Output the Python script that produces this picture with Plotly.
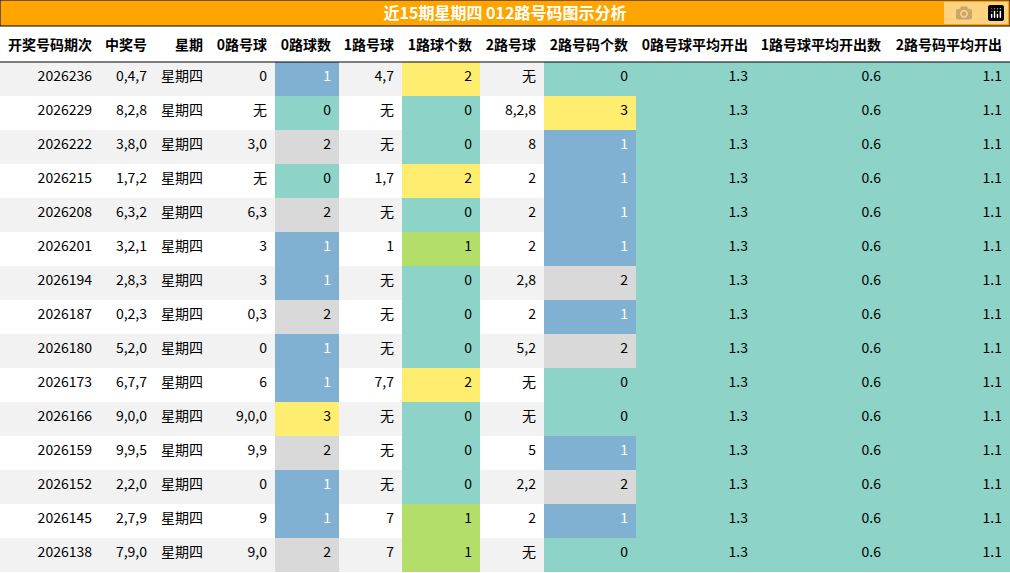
import plotly.graph_objects as go

title = "近15期星期四 012路号码图示分析"
headers = ["开奖号码期次", "中奖号", "星期", "0路号球", "0路球数", "1路号球", "1路球个数",
           "2路号球", "2路号码个数", "0路号球平均开出", "1路号球平均开出数", "2路号码平均开出"]

issues = ["2026236", "2026229", "2026222", "2026215", "2026208", "2026201", "2026194", "2026187",
          "2026180", "2026173", "2026166", "2026159", "2026152", "2026145", "2026138"]
numbers = ["0,4,7", "8,2,8", "3,8,0", "1,7,2", "6,3,2", "3,2,1", "2,8,3", "0,2,3",
           "5,2,0", "6,7,7", "9,0,0", "9,9,5", "2,2,0", "2,7,9", "7,9,0"]
weekday = ["星期四"] * 15
r0_balls = ["0", "无", "3,0", "无", "6,3", "3", "3", "0,3", "0", "6", "9,0,0", "9,9", "0", "9", "9,0"]
r0_count = [1, 0, 2, 0, 2, 1, 1, 2, 1, 1, 3, 2, 1, 1, 2]
r1_balls = ["4,7", "无", "无", "1,7", "无", "1", "无", "无", "无", "7,7", "无", "无", "无", "7", "7"]
r1_count = [2, 0, 0, 2, 0, 1, 0, 0, 0, 2, 0, 0, 0, 1, 1]
r2_balls = ["无", "8,2,8", "8", "2", "2", "2", "2,8", "2", "5,2", "无", "无", "5", "2,2", "2", "无"]
r2_count = [0, 3, 1, 1, 1, 1, 2, 1, 2, 0, 0, 1, 2, 1, 0]
avg0 = [1.3] * 15
avg1 = [0.6] * 15
avg2 = [1.1] * 15

BLUE, TEAL, GRAY, YEL, GRN = "#80b1d3", "#8dd3c7", "#d9d9d9", "#ffed6f", "#b3de69"
cmap0 = {0: TEAL, 1: BLUE, 2: GRAY, 3: YEL}
cmap1 = {0: TEAL, 1: GRN, 2: YEL}

n = len(issues)
stripe = ["#f2f2f2" if i % 2 == 0 else "white" for i in range(n)]
fills = [stripe, stripe, stripe, stripe,
         [cmap0[v] for v in r0_count], stripe,
         [cmap1[v] for v in r1_count], stripe,
         [cmap0[v] for v in r2_count],
         [TEAL] * n, [TEAL] * n, [TEAL] * n]


def fc(counts):
    return ["white" if col == BLUE else "black" for c, col in counts]


fonts = ["black"] * 4 + [fc(zip(r0_count, fills[4]))] + ["black"] + [fc(zip(r1_count, fills[6]))] + \
        ["black"] + [fc(zip(r2_count, fills[8]))] + ["black"] * 3

widths = [100, 55, 56, 64, 64, 63, 78, 64, 92, 120, 133, 121]

fig = go.Figure(go.Table(
    domain={"x": [0, 1], "y": [0, 1]},
    columnwidth=widths,
    header={
        "values": ["<b>%s</b>" % h for h in headers],
        "fill": {"color": "white"},
        "line": {"width": 0},
        "align": "right",
        "height": 36,
        "font": {"family": "Noto Sans CJK SC", "size": 14, "color": "black"},
    },
    cells={
        "values": [issues, numbers, weekday, r0_balls, r0_count, r1_balls, r1_count,
                   r2_balls, r2_count, avg0, avg1, avg2],
        "fill": {"color": fills},
        "line": {"width": 0},
        "align": "right",
        "height": 34,
        "font": {"family": "Noto Sans CJK SC", "size": 14, "color": fonts},
    },
))

top = 26 / 547
fig.add_shape(type="rect", xref="paper", yref="paper", x0=0, x1=1, y0=1, y1=1 + top,
              fillcolor="#ffa500", line={"color": "black", "width": 1})
fig.add_shape(type="line", xref="paper", yref="paper", x0=0, x1=1,
              y0=1 - 36 / 547, y1=1 - 36 / 547, line={"color": "black", "width": 1})

fig.update_layout(
    width=1010, height=573, margin={"l": 0, "r": 0, "t": 26, "b": 0},
    paper_bgcolor="white",
    title={"text": "<b>%s</b>" % title, "x": 0.5, "xanchor": "center",
           "y": 1 - 13 / 573, "yanchor": "middle", "yref": "container",
           "font": {"family": "Noto Sans CJK SC", "size": 16, "color": "white"}},
)
fig.write_html("out.html", post_script="document.body.style.margin='0';")
